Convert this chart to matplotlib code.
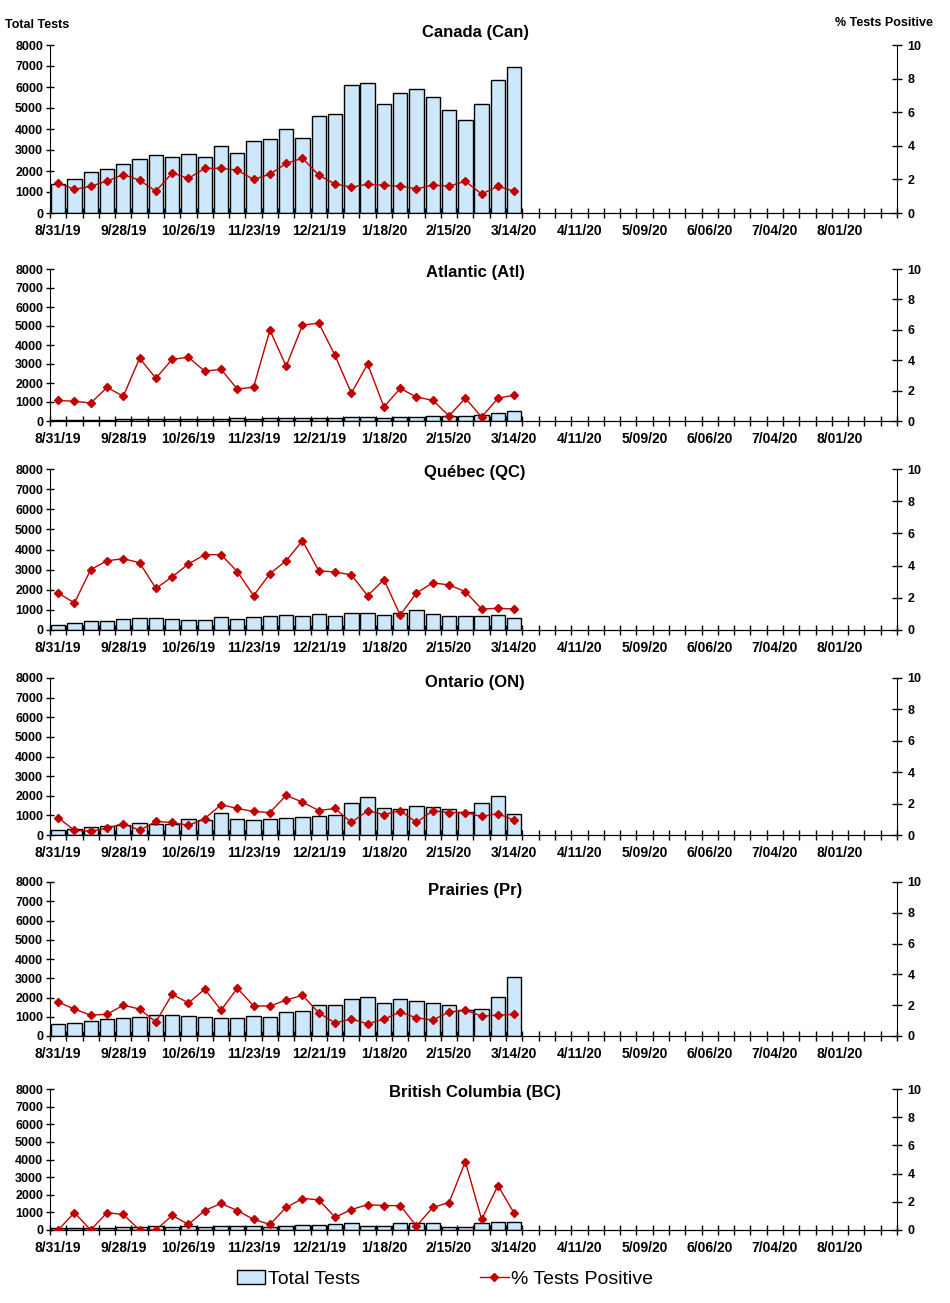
import numpy as np
import matplotlib
matplotlib.use("Agg")
import matplotlib.pyplot as plt
import matplotlib.patches as mpatches
import matplotlib.lines as mlines

plt.rcParams['font.family'] = ['Liberation Sans', 'DejaVu Sans']

# weekly categories, 8/31/19 .. 8/22/20 (52 weeks)
n_weeks = 52
tick_labels = ["8/31/19", "9/28/19", "10/26/19", "11/23/19", "12/21/19", "1/18/20",
               "2/15/20", "3/14/20", "4/11/20", "5/09/20", "6/06/20", "7/04/20", "8/01/20"]

regions = ["Canada (Can)", "Atlantic (Atl)", "Québec (QC)", "Ontario (ON)",
           "Prairies (Pr)", "British Columbia (BC)"]

can_tests = [1380, 1600, 1950, 2080, 2320, 2560, 2750, 2650, 2800, 2650, 3180, 2850, 3450, 3520, 3990,
             3560, 4640, 4730, 6100, 6200, 5200, 5720, 5920, 5530, 4920, 4450, 5200, 6330, 6950]
can_pos = [1.78, 1.41, 1.59, 1.90, 2.29, 1.95, 1.30, 2.38, 2.06, 2.66, 2.66, 2.55, 2.00, 2.31, 2.95,
           3.26, 2.25, 1.73, 1.54, 1.71, 1.65, 1.60, 1.44, 1.66, 1.60, 1.89, 1.13, 1.59, 1.30]

atl_tests = [30, 60, 60, 70, 80, 110, 120, 120, 120, 120, 120, 160, 130, 160, 160,
             160, 160, 170, 210, 220, 180, 210, 230, 270, 280, 280, 330, 430, 520]
atl_pos = [1.35, 1.30, 1.18, 2.21, 1.63, 4.13, 2.81, 4.06, 4.19, 3.28, 3.40, 2.10, 2.23, 5.98, 3.60,
           6.31, 6.44, 4.31, 1.83, 3.75, 0.93, 2.14, 1.58, 1.36, 0.34, 1.50, 0.26, 1.50, 1.70]

qc_tests = [240, 340, 440, 440, 540, 590, 590, 540, 490, 490, 640, 540, 640, 690, 740,
            690, 790, 690, 840, 840, 740, 840, 990, 790, 690, 690, 690, 740, 590]
qc_pos = [2.30, 1.68, 3.75, 4.30, 4.43, 4.18, 2.58, 3.30, 4.10, 4.68, 4.68, 3.63, 2.13, 3.50, 4.30,
          5.55, 3.68, 3.60, 3.43, 2.13, 3.13, 0.93, 2.30, 2.93, 2.80, 2.38, 1.30, 1.35, 1.30]

on_tests = [230, 300, 390, 440, 490, 590, 540, 540, 790, 740, 1140, 790, 740, 790, 890,
            940, 990, 1040, 1640, 1930, 1400, 1350, 1500, 1450, 1350, 1150, 1640, 1980, 1090]
on_pos = [1.10, 0.30, 0.24, 0.43, 0.73, 0.30, 0.86, 0.80, 0.61, 1.04, 1.93, 1.69, 1.50, 1.43, 2.53,
          2.09, 1.56, 1.69, 0.80, 1.54, 1.30, 1.56, 0.80, 1.54, 1.43, 1.43, 1.18, 1.36, 0.93]

pr_tests = [620, 680, 780, 880, 930, 980, 1080, 1080, 1030, 980, 930, 930, 1030, 980, 1230,
            1290, 1600, 1600, 1920, 2020, 1720, 1920, 1820, 1720, 1600, 1350, 1400, 2020, 3060]
pr_pos = [2.20, 1.75, 1.35, 1.41, 2.00, 1.75, 0.91, 2.71, 2.15, 3.04, 1.68, 3.10, 1.95, 1.95, 2.33,
          2.65, 1.50, 0.85, 1.10, 0.79, 1.10, 1.55, 1.18, 1.04, 1.55, 1.68, 1.29, 1.35, 1.41]

bc_tests = [130, 130, 130, 130, 180, 180, 230, 180, 230, 180, 230, 230, 230, 180, 230,
            280, 280, 350, 420, 230, 230, 420, 380, 380, 180, 180, 420, 470, 470]
bc_pos = [0.00, 1.23, 0.00, 1.23, 1.10, 0.00, 0.00, 1.03, 0.40, 1.38, 1.88, 1.38, 0.75, 0.40, 1.60,
          2.23, 2.15, 0.90, 1.45, 1.80, 1.73, 1.73, 0.28, 1.60, 1.95, 4.85, 0.75, 3.15, 1.18]

tests_all = [can_tests, atl_tests, qc_tests, on_tests, pr_tests, bc_tests]
pos_all = [can_pos, atl_pos, qc_pos, on_pos, pr_pos, bc_pos]

BAR_COLOR = "#CCE8FA"
LINE_COLOR = "#C00000"

W, H = 950, 1303
fig = plt.figure(figsize=(W / 100, H / 100), dpi=100)

# plot area boxes in pixels (top, bottom)
boxes = [(45, 213), (269, 421), (469, 630), (678, 835), (882, 1036), (1089, 1230)]
title_y = [32, 273, 473, 683, 890, 1092]
left_px, right_px = 50, 897

for i in range(6):
    top, bot = boxes[i]
    ax = fig.add_axes([left_px / W, 1 - bot / H, (right_px - left_px) / W, (bot - top) / H])
    x = np.arange(len(tests_all[i]))
    ax.bar(x, tests_all[i], width=0.88, color=BAR_COLOR, edgecolor="black", linewidth=1, zorder=2)
    ax.set_xlim(-0.5, n_weeks - 0.5)
    ax.set_ylim(0, 8000)
    ax.set_yticks(np.arange(0, 8001, 1000))
    ax.tick_params(axis="y", direction="inout", length=6, width=1, pad=2, labelsize=9)
    # ticks between categories, labels under every 4th week
    ax.set_xticks(np.arange(-0.5, n_weeks, 1))
    ax.set_xticklabels([])
    ax.tick_params(axis="x", which="major", direction="inout", length=7, width=1)
    ax.set_xticks(np.arange(0, n_weeks, 4), tick_labels, minor=True)
    ax.tick_params(axis="x", which="minor", length=0, pad=8, labelsize=10)
    for lab in ax.get_yticklabels() + ax.get_xticklabels(minor=True):
        lab.set_fontweight("bold")
    ax.spines["top"].set_visible(False)
    ax.spines["right"].set_visible(False)

    ax2 = ax.twinx()
    ax2.plot(x, pos_all[i], color=LINE_COLOR, linewidth=1, marker="D", markersize=4.5, zorder=3)
    ax2.set_ylim(0, 10)
    ax2.set_yticks(np.arange(0, 11, 2))
    ax2.tick_params(axis="y", direction="inout", length=7, width=1, pad=4, labelsize=9)
    for lab in ax2.get_yticklabels():
        lab.set_fontweight("bold")
    ax2.spines["top"].set_visible(False)
    ax2.spines["left"].set_visible(False)

    fig.text(475 / W, 1 - title_y[i] / H, regions[i], ha="center", va="center",
             fontsize=12, fontweight="bold")

fig.text(5 / W, 1 - 25 / H, "Total Tests", ha="left", va="center", fontsize=9, fontweight="bold")
fig.text(933 / W, 1 - 23 / H, "% Tests Positive", ha="right", va="center", fontsize=9, fontweight="bold")

h_bar = mpatches.Patch(facecolor=BAR_COLOR, edgecolor="black", linewidth=1)
h_line = mlines.Line2D([], [], color=LINE_COLOR, linewidth=1, marker="D", markersize=4.5)
fig.legend([h_bar, h_line], ["Total Tests", "% Tests Positive"], loc="center",
           bbox_to_anchor=(445 / W, 1 - 1279 / H), ncol=2, frameon=False, fontsize=14,
           handlelength=1.45, handletextpad=0.15, columnspacing=6.2)

fig.savefig("out.png", dpi=100)
